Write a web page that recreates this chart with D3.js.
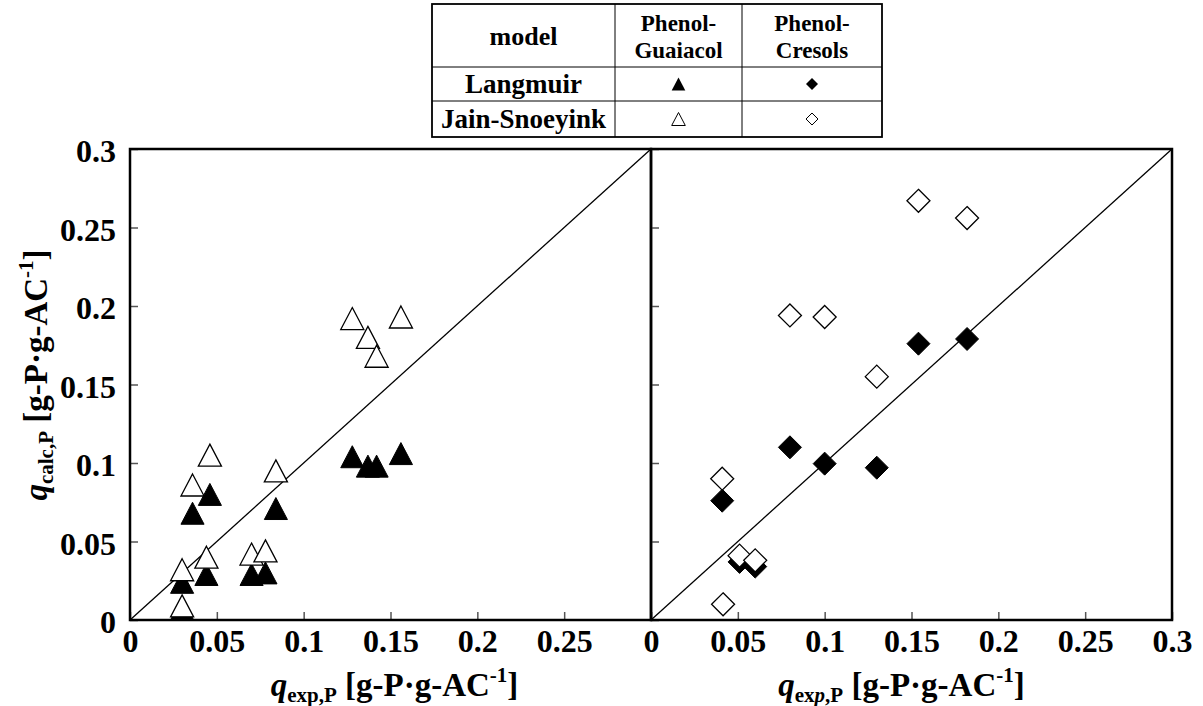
<!DOCTYPE html>
<html>
<head>
<meta charset="utf-8">
<script src="https://d3js.org/d3.v7.min.js"></script>
<style>
  body { margin: 0; background: #fff; }
</style>
</head>
<body>
<div id="chart"></div>
<script>
// Phenol-Guaiacol (triangles), experimental vs calculated
var pgExp  = [0.030, 0.030, 0.036, 0.044, 0.046, 0.070, 0.078, 0.084, 0.128, 0.137, 0.142, 0.156];
var pgLang = [0.024, 0.007, 0.068, 0.029, 0.080, 0.029, 0.030, 0.071, 0.104, 0.098, 0.098, 0.106];
var pgJS   = [0.032, 0.009, 0.086, 0.040, 0.105, 0.042, 0.044, 0.095, 0.192, 0.180, 0.168, 0.193];

// Phenol-Cresols (diamonds)
var pcLangExp = [0.154, 0.182, 0.080, 0.100, 0.130, 0.041, 0.051, 0.060];
var pcLang    = [0.176, 0.179, 0.110, 0.0996, 0.097, 0.076, 0.037, 0.034];
var pcJSExp   = [0.154, 0.182, 0.080, 0.100, 0.130, 0.041, 0.051, 0.060, 0.0415];
var pcJS      = [0.267, 0.256, 0.194, 0.193, 0.155, 0.090, 0.041, 0.038, 0.010];

var ticks = [0, 0.05, 0.1, 0.15, 0.2, 0.25, 0.3];
var diag = [0, 0.3];

var FONT = "'Liberation Serif', 'Times New Roman', Times, 'DejaVu Serif', serif";
var W = 1203, H = 706;
var top0 = 149, bottom0 = 620, pw = 521;
var panels = [130, 651];

var svg = d3.select("#chart").append("svg")
    .attr("width", W).attr("height", H)
    .style("font-family", FONT).style("font-weight", "bold");

var fmt = function (d) { return d === 0 ? "0" : String(+d.toFixed(2)); };

var y = d3.scaleLinear().domain([0, 0.3]).range([bottom0, top0]);

function tri(s) {
    return "M0," + (-s) + "L" + (s * 1.05) + "," + s + "L" + (-s * 1.05) + "," + s + "Z";
}
function dia(s) {
    return "M0," + (-s) + "L" + s + ",0L0," + s + "L" + (-s) + ",0Z";
}

function drawPanel(x0, showYLabels, showLastX, lang, langExp, js, jsExp, shape) {
    var x = d3.scaleLinear().domain([0, 0.3]).range([x0, x0 + pw]);
    var g = svg.append("g");

    // ticks point inward
    var xa = g.append("g").attr("transform", "translate(0," + bottom0 + ")")
        .call(d3.axisBottom(x).tickValues(ticks).tickSize(-8).tickPadding(9)
            .tickFormat(function (d) { return (!showLastX && d === 0.3) ? "" : fmt(d); }));
    var ya = g.append("g").attr("transform", "translate(" + x0 + ",0)")
        .call(d3.axisLeft(y).tickValues(ticks).tickSize(-8).tickPadding(14)
            .tickFormat(function (d) { return showYLabels ? fmt(d) : ""; }));
    [xa, ya].forEach(function (a) {
        a.attr("font-family", null).attr("font-size", null);
        a.select(".domain").remove();
        a.selectAll(".tick line").attr("stroke", "#555").attr("stroke-width", 1.5);
        a.selectAll(".tick text").attr("fill", "#000")
            .style("font-family", FONT).style("font-weight", "bold").style("font-size", "32px");
    });
    ya.selectAll(".tick text").attr("dy", "0.4em");

    // y = x line
    g.append("path")
        .attr("d", d3.line().x(function (d) { return x(d); }).y(function (d) { return y(d); })(diag))
        .attr("stroke", "#000").attr("stroke-width", 1.3).attr("fill", "none");

    // frame
    g.append("rect").attr("x", x0).attr("y", top0).attr("width", pw).attr("height", bottom0 - top0)
        .attr("fill", "none").attr("stroke", "#000").attr("stroke-width", 2.5);

    var path = shape === "tri" ? tri(11) : dia(11.5);
    g.append("g").selectAll("path").data(lang).enter().append("path")
        .attr("d", path)
        .attr("transform", function (d, i) { return "translate(" + x(langExp[i]) + "," + y(d) + ")"; })
        .attr("fill", "#000").attr("stroke", "#000").attr("stroke-width", 1);
    g.append("g").selectAll("path").data(js).enter().append("path")
        .attr("d", path)
        .attr("transform", function (d, i) { return "translate(" + x(jsExp[i]) + "," + y(d) + ")"; })
        .attr("fill", "#fff").attr("stroke", "#000").attr("stroke-width", 1.3);
    return x;
}

drawPanel(panels[0], true, false, pgLang, pgExp, pgJS, pgExp, "tri");
drawPanel(panels[1], false, true, pcLang, pcLangExp, pcJS, pcJSExp, "dia");

// axis titles
function title(t, sub, italicP) {
    t.style("font-size", "33px");
    t.append("tspan").style("font-style", "italic").text("q");
    var s = t.append("tspan").style("font-size", "21px").attr("dy", 6);
    if (italicP) {
        s.text("ex");
        t.append("tspan").style("font-size", "21px").style("font-style", "italic").text("p");
        t.append("tspan").style("font-size", "21px").text(",P");
    } else {
        s.text(sub);
    }
    t.append("tspan").attr("dy", -6).text(" [g-P\u00b7g-AC");
    t.append("tspan").style("font-size", "21px").attr("dy", -14).text("-1");
    t.append("tspan").attr("dy", 14).text("]");
}

title(svg.append("text").attr("x", panels[0] + pw / 2 + 4).attr("y", 696).attr("text-anchor", "middle"), "exp,P", false);
title(svg.append("text").attr("x", panels[1] + pw / 2 - 10).attr("y", 696).attr("text-anchor", "middle"), "exp,P", true);
title(svg.append("text").attr("transform", "translate(47,375) rotate(-90)").attr("text-anchor", "middle"), "calc,P", false);

// legend table
var cols = [432, 615, 742, 882];
var rows = [4, 67, 101, 137];
var leg = svg.append("g");
leg.append("rect").attr("x", cols[0]).attr("y", rows[0])
    .attr("width", cols[3] - cols[0]).attr("height", rows[3] - rows[0])
    .attr("fill", "#fff").attr("stroke", "#000").attr("stroke-width", 1.8);
[cols[1], cols[2]].forEach(function (c) {
    leg.append("line").attr("x1", c).attr("x2", c).attr("y1", rows[0]).attr("y2", rows[3])
        .attr("stroke", "#000").attr("stroke-width", 1);
});
[rows[1], rows[2]].forEach(function (r) {
    leg.append("line").attr("x1", cols[0]).attr("x2", cols[3]).attr("y1", r).attr("y2", r)
        .attr("stroke", "#000").attr("stroke-width", 1);
});
function cx(i) { return (cols[i] + cols[i + 1]) / 2; }
function cy(i) { return (rows[i] + rows[i + 1]) / 2; }

var headers = [["model"], ["Phenol-", "Guaiacol"], ["Phenol-", "Cresols"]];
headers.forEach(function (h, i) {
    if (h.length === 1) {
        leg.append("text").attr("text-anchor", "middle").style("font-size", "26px")
            .attr("x", cx(i)).attr("y", 45).text(h[0]);
    } else {
        h.forEach(function (line, k) {
            leg.append("text").attr("text-anchor", "middle").style("font-size", "23px")
                .attr("x", cx(i)).attr("y", 31 + k * 27).text(line);
        });
    }
});
var models = ["Langmuir", "Jain-Snoeyink"];
models.forEach(function (m, i) {
    leg.append("text").attr("text-anchor", "middle").style("font-size", "27px")
        .attr("x", cx(0)).attr("y", cy(i + 1) + 9).text(m);
});
leg.append("path").attr("d", tri(6.5)).attr("transform", "translate(" + cx(1) + "," + cy(1) + ")").attr("fill", "#000");
leg.append("path").attr("d", dia(6)).attr("transform", "translate(" + cx(2) + "," + cy(1) + ")").attr("fill", "#000");
leg.append("path").attr("d", tri(6.5)).attr("transform", "translate(" + cx(1) + "," + cy(2) + ")")
    .attr("fill", "#fff").attr("stroke", "#000").attr("stroke-width", 1);
leg.append("path").attr("d", dia(6)).attr("transform", "translate(" + cx(2) + "," + cy(2) + ")")
    .attr("fill", "#fff").attr("stroke", "#000").attr("stroke-width", 1);
</script>
</body>
</html>
